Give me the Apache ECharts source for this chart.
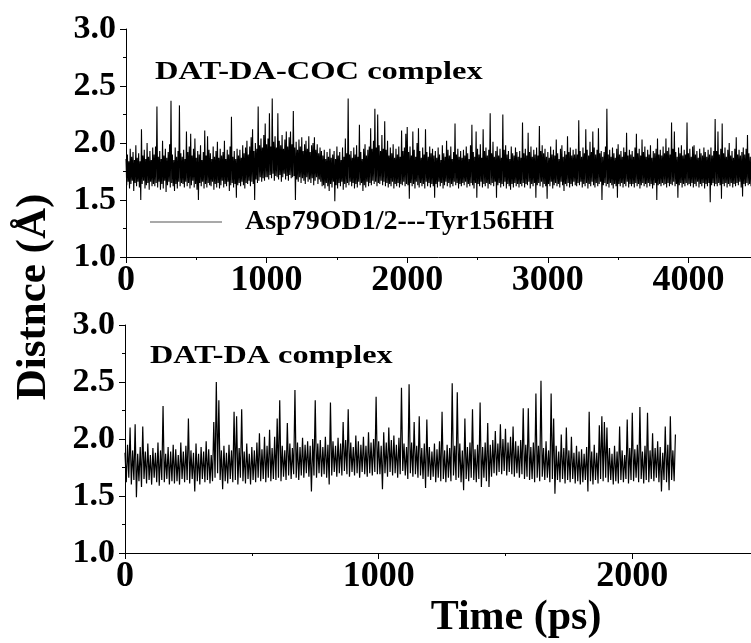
<!DOCTYPE html>
<html><head><meta charset="utf-8">
<script src="https://cdn.jsdelivr.net/npm/echarts@6/dist/echarts.min.js"></script>
<style>html,body{margin:0;padding:0;background:#fff}#c{width:751px;height:643px}</style>
</head><body><div id="c"></div>
<script>
// Sampling interval (ps) for both trajectories
const STEP_PS = 5;

// Top panel: DAT-DA-COC complex, Asp79OD1/2---Tyr156HH distance (Å), 0..4445 ps
const cocDistance = [
1.86,1.63,1.90,1.66,1.84,1.60,1.95,1.64,1.88,1.67,1.92,1.58,1.85,1.65,1.98,1.62,1.87,1.66,1.91,1.61,1.84,1.50,2.12,1.64,1.89,1.67,1.94,1.60,1.86,1.63,2.00,1.65,1.88,1.59,1.93,1.66,1.85,1.62,1.96,1.64,
1.90,1.62,1.97,1.65,2.32,1.61,1.88,1.66,1.93,1.59,1.86,1.64,2.02,1.60,1.89,1.67,1.95,1.57,1.87,1.63,1.92,1.66,1.99,1.61,2.37,1.65,1.90,1.62,1.85,1.58,1.96,1.64,1.88,1.60,1.93,1.66,2.33,1.62,1.91,1.65,
1.88,1.64,1.94,1.61,1.86,1.66,2.10,1.62,1.92,1.65,1.97,1.60,2.08,1.63,1.89,1.67,1.95,1.61,2.04,1.64,1.87,1.59,1.93,1.50,1.90,1.65,1.98,1.62,1.85,1.66,1.92,1.60,2.11,1.64,1.89,1.61,2.06,1.65,1.94,1.63,
1.91,1.62,1.86,1.66,1.97,1.59,1.88,1.64,1.93,1.61,2.01,1.65,1.87,1.60,1.95,1.63,1.89,1.67,1.92,1.61,2.02,1.64,1.86,1.62,1.94,1.66,1.90,1.58,1.97,1.63,2.23,1.65,1.88,1.61,1.93,1.64,1.86,1.52,1.95,1.63,
1.89,1.65,1.94,1.62,1.87,1.66,1.98,1.63,1.91,1.60,1.96,1.65,2.02,1.64,1.90,1.67,1.97,1.62,2.05,1.66,2.12,1.64,1.93,1.50,2.00,1.68,1.95,1.65,2.32,1.67,1.98,1.70,2.04,1.66,1.96,1.69,2.07,1.67,2.17,1.70,
1.99,1.70,2.04,1.68,2.26,1.72,1.97,1.69,2.39,1.73,2.01,1.67,2.06,1.71,1.96,1.70,2.26,1.68,2.02,1.72,1.98,1.66,2.07,1.70,1.95,1.73,2.03,1.68,2.10,1.71,1.97,1.67,2.05,1.72,2.10,1.69,1.99,1.70,2.28,1.71,
1.96,1.50,2.01,1.68,1.94,1.66,2.03,1.70,1.97,1.65,2.05,1.69,1.93,1.67,1.99,1.64,2.02,1.70,1.95,1.66,2.06,1.68,1.92,1.65,1.98,1.69,2.00,1.63,2.05,1.67,1.94,1.70,1.99,1.64,1.91,1.68,1.96,1.66,1.93,1.62,
1.89,1.63,1.94,1.60,1.86,1.65,1.92,1.62,1.88,1.58,1.95,1.64,1.87,1.61,1.90,1.66,1.93,1.49,1.86,1.63,1.97,1.60,1.89,1.65,1.92,1.62,1.85,1.66,1.96,1.59,1.88,1.64,2.04,1.61,1.91,1.65,2.39,1.63,1.90,1.66,
1.93,1.62,1.87,1.65,1.96,1.60,1.90,1.64,1.98,1.61,1.88,1.66,2.16,1.63,1.92,1.65,1.86,1.58,1.95,1.63,1.99,1.61,1.89,1.66,1.94,1.62,1.97,1.65,2.13,1.63,1.95,1.67,2.02,1.64,2.30,1.66,1.96,1.62,2.25,1.65,
1.98,1.64,1.93,1.67,2.07,1.63,1.95,1.66,2.19,1.62,1.94,1.65,2.02,1.61,1.89,1.64,1.96,1.62,1.91,1.66,1.99,1.60,1.87,1.64,1.95,1.62,1.90,1.65,1.97,1.61,1.88,1.64,2.11,1.63,1.93,1.66,1.96,1.62,2.08,1.64,
2.14,1.63,1.92,1.51,1.97,1.65,1.89,1.62,2.10,1.64,1.94,1.60,1.88,1.66,2.00,1.63,2.13,1.61,1.93,1.65,1.87,1.62,1.96,1.64,1.90,1.60,2.12,1.66,1.92,1.62,1.88,1.65,1.97,1.61,1.91,1.64,1.95,1.62,1.89,1.52,
1.93,1.64,1.87,1.61,1.96,1.66,1.90,1.62,1.85,1.65,1.98,1.60,1.91,1.63,1.88,1.66,2.02,1.62,1.94,1.65,1.89,1.61,1.97,1.64,1.86,1.62,1.92,1.66,2.17,1.63,1.90,1.65,1.95,1.60,1.88,1.64,1.93,1.62,1.87,1.65,
1.94,1.63,1.89,1.66,1.97,1.61,1.91,1.64,1.86,1.62,1.98,1.65,2.16,1.63,1.92,1.60,1.88,1.65,2.10,1.52,1.95,1.64,1.90,1.62,1.99,1.66,1.87,1.61,2.12,1.64,1.93,1.62,1.96,1.65,1.89,1.60,1.94,1.64,2.26,1.63,
1.91,1.65,2.01,1.62,1.88,1.66,1.93,1.52,1.97,1.63,1.89,1.65,1.95,1.61,1.87,1.64,2.25,1.62,1.94,1.66,1.98,1.60,1.90,1.64,1.93,1.62,1.86,1.59,1.97,1.64,1.91,1.61,1.89,1.65,1.96,1.62,1.92,1.64,1.88,1.61,
1.93,1.64,1.87,1.62,2.18,1.65,1.91,1.61,1.95,1.64,1.89,1.63,2.09,1.66,1.92,1.60,1.97,1.64,1.88,1.62,1.94,1.65,1.90,1.52,1.96,1.63,1.89,1.65,2.15,1.62,1.93,1.66,1.98,1.61,1.91,1.64,1.95,1.62,1.88,1.51,
1.92,1.64,1.87,1.62,1.97,1.66,1.90,1.60,1.94,1.63,1.89,1.65,2.03,1.62,1.91,1.64,1.86,1.61,1.95,1.66,1.98,1.63,1.88,1.58,1.93,1.64,1.90,1.62,2.06,1.65,1.92,1.61,1.96,1.64,1.89,1.62,1.94,1.66,1.90,1.63,
1.95,1.62,1.90,1.65,2.20,1.63,1.93,1.66,1.88,1.61,1.96,1.64,1.91,1.62,2.12,1.65,1.94,1.60,1.89,1.64,2.01,1.62,1.92,1.66,2.10,1.63,1.96,1.61,1.90,1.65,1.94,1.62,2.13,1.64,1.91,1.66,1.93,1.50,1.88,1.63,
1.92,1.65,1.97,1.62,2.30,1.64,1.90,1.61,1.94,1.65,1.88,1.63,1.96,1.60,1.91,1.64,1.87,1.62,1.95,1.52,1.99,1.64,1.90,1.62,1.93,1.65,1.88,1.61,1.96,1.64,1.92,1.62,2.09,1.66,1.89,1.61,1.94,1.64,1.90,1.62,
1.93,1.64,1.88,1.61,1.96,1.65,2.08,1.62,1.91,1.64,1.95,1.60,1.89,1.63,2.03,1.65,1.92,1.62,1.97,1.64,1.88,1.61,1.94,1.65,1.90,1.62,1.98,1.64,1.87,1.60,1.93,1.63,1.91,1.65,1.95,1.50,2.04,1.63,1.90,1.64,
1.94,1.62,1.89,1.65,1.97,1.63,1.91,1.64,2.04,1.61,1.93,1.65,1.96,1.62,1.90,1.64,2.18,1.63,1.95,1.66,2.10,1.62,1.92,1.64,1.88,1.52,1.96,1.63,1.91,1.65,1.98,1.61,1.89,1.64,1.94,1.62,1.90,1.65,2.18,1.63,
1.91,1.64,1.95,1.62,1.88,1.65,1.97,1.61,1.98,1.64,1.90,1.62,1.93,1.66,1.87,1.61,1.95,1.64,1.91,1.62,1.89,1.65,1.96,1.60,1.92,1.64,1.88,1.62,1.94,1.65,1.90,1.48,1.96,1.63,1.89,1.65,1.93,1.62,2.21,1.64,
1.93,1.62,2.10,1.65,1.90,1.63,1.95,1.51,2.17,1.64,1.91,1.62,1.96,1.65,1.88,1.61,1.94,1.64,2.00,1.62,1.89,1.65,1.93,1.61,1.87,1.64,1.95,1.62,2.05,1.65,1.90,1.63,1.94,1.66,1.89,1.61,1.92,1.53,1.96,1.64,
1.90,1.62,1.95,1.65,2.07,1.63,1.91,1.64,1.88,1.62
];

// Bottom panel: DAT-DA complex distance (Å), 0..2170 ps
const daDistance = [
1.88,1.62,1.95,1.66,2.10,1.60,1.90,1.64,2.13,1.49,1.87,1.63,1.93,1.58,2.11,1.65,1.89,1.61,1.96,1.64,1.86,1.60,1.92,1.66,1.88,1.62,1.97,1.59,1.90,1.64,2.29,1.62,1.87,1.65,1.93,1.60,1.89,1.63,1.95,1.61,
1.91,1.63,1.86,1.60,1.97,1.65,1.89,1.62,1.94,1.64,2.18,1.61,1.90,1.65,1.88,1.54,1.96,1.63,1.87,1.60,1.93,1.65,1.89,1.62,1.98,1.64,1.91,1.61,1.86,1.63,2.15,1.66,2.50,1.70,2.34,1.64,1.90,1.56,1.94,1.63,
1.88,1.61,1.95,1.65,1.90,1.62,2.24,1.64,2.20,1.60,1.92,1.66,2.26,1.63,1.89,1.61,1.96,1.65,1.87,1.60,1.93,1.64,1.90,1.62,1.97,1.66,2.05,1.63,1.91,1.65,2.02,1.62,1.94,1.66,2.08,1.63,1.92,1.65,2.02,1.64,
2.18,1.66,2.34,1.63,1.94,1.67,1.90,1.64,2.14,1.68,1.96,1.65,1.92,1.69,2.43,1.66,1.97,1.64,1.93,1.68,2.01,1.66,1.95,1.70,1.98,1.67,1.94,1.54,2.00,1.68,2.34,1.66,1.96,1.70,1.99,1.67,1.93,1.69,2.02,1.66,
1.95,1.60,2.32,1.68,1.98,1.71,1.94,1.67,2.01,1.70,1.96,1.68,2.15,1.72,1.99,1.69,2.26,1.67,1.97,1.71,1.93,1.68,2.03,1.70,1.98,1.66,1.95,1.71,2.02,1.69,1.94,1.67,2.06,1.70,1.97,1.68,2.00,1.71,2.37,1.69,
1.98,1.69,1.94,1.56,2.06,1.70,1.97,1.67,2.10,1.71,1.99,1.68,2.03,1.70,1.95,1.66,2.01,1.69,2.45,1.72,1.96,1.68,1.93,1.65,2.48,1.70,1.97,1.67,2.15,1.69,1.94,1.66,2.20,1.68,1.92,1.65,1.96,1.57,2.17,1.67,
1.93,1.64,1.89,1.67,1.96,1.62,1.91,1.66,1.98,1.63,2.24,1.65,1.90,1.62,1.95,1.66,1.92,1.63,2.49,1.68,1.94,1.64,2.41,1.66,1.96,1.62,1.90,1.55,2.18,1.65,1.93,1.63,1.97,1.66,2.26,1.64,1.91,1.62,1.95,1.65,
2.32,1.58,1.93,1.66,1.97,1.63,2.14,1.58,1.95,1.67,1.99,1.70,2.07,1.68,1.96,1.71,2.13,1.69,2.00,1.72,2.09,1.68,1.97,1.71,2.02,1.69,2.11,1.67,1.98,1.70,1.94,1.66,1.99,1.69,2.27,1.65,1.95,1.67,2.27,1.64,
1.93,1.65,1.97,1.62,2.40,1.66,1.94,1.63,2.51,1.67,1.92,1.64,1.98,1.66,1.90,1.62,2.40,1.65,2.18,1.52,1.94,1.64,1.89,1.62,2.04,1.65,1.92,1.61,2.10,1.64,1.90,1.62,2.02,1.65,1.88,1.61,1.94,1.63,1.89,1.60,
1.91,1.62,1.87,1.64,1.93,1.54,2.24,1.63,1.89,1.60,1.95,1.64,1.88,1.61,2.12,1.65,2.20,1.63,2.15,1.66,2.10,1.62,1.92,1.64,1.87,1.60,1.94,1.63,1.89,1.61,2.11,1.64,1.90,1.62,1.86,1.65,2.17,1.61,1.92,1.64,
2.23,1.63,1.91,1.66,1.95,1.62,2.28,1.65,1.89,1.61,1.94,1.64,2.23,1.62,1.90,1.65,2.05,1.63,1.92,1.66,1.98,1.62,1.93,1.54,1.88,1.64,2.11,1.62,1.95,1.55,2.20,1.64,1.90,1.63,2.04
];

// Axis settings
const yTickValues = [1.0, 1.5, 2.0, 2.5, 3.0];
const topXTickValues = [0, 1000, 2000, 3000, 4000];
const bottomXTickValues = [0, 1000, 2000];
const TOP_X_MAX = 4445;
const BOTTOM_X_MAX = 2468;

const legendName = 'Asp79OD1/2---Tyr156HH';
const FONT = '"Liberation Serif", "Times New Roman", serif';

function toPairs(arr) { return arr.map((v, i) => [i * STEP_PS, v]); }

function xAxis(gridIndex, max) {
  return {
    type: 'value', gridIndex: gridIndex, min: 0, max: max, interval: 1000,
    axisLine: { show: true, lineStyle: { color: '#000', width: 1 } },
    axisTick: { show: true, inside: false, length: 6, lineStyle: { color: '#000', width: 1 } },
    minorTick: { show: true, splitNumber: 2, length: 3, lineStyle: { color: '#000', width: 1 } },
    splitLine: { show: false },
    axisLabel: { showMaxLabel: false, margin: 6, color: '#000', fontFamily: FONT, fontWeight: 'bold', fontSize: 36,
      formatter: v => String(Math.round(v)) }
  };
}
function yAxis(gridIndex) {
  return {
    type: 'value', gridIndex: gridIndex, min: yTickValues[0], max: yTickValues[yTickValues.length - 1], interval: 0.5,
    axisLine: { show: true, lineStyle: { color: '#000', width: 1 } },
    axisTick: { show: true, inside: false, length: 6, lineStyle: { color: '#000', width: 1 } },
    minorTick: { show: true, splitNumber: 2, length: 3, lineStyle: { color: '#000', width: 1 } },
    splitLine: { show: false },
    axisLabel: { margin: 10, color: '#000', fontFamily: FONT, fontWeight: 'bold', fontSize: 34,
      formatter: v => v.toFixed(1) }
  };
}

const chart = echarts.init(document.getElementById('c'), null, { renderer: 'canvas' });
chart.setOption({
  animation: false,
  backgroundColor: '#fff',
  grid: [
    { left: 126, top: 29, right: 0, height: 228, containLabel: false },
    { left: 125, top: 325, right: 0, height: 228, containLabel: false }
  ],
  xAxis: [xAxis(0, TOP_X_MAX), xAxis(1, BOTTOM_X_MAX)],
  yAxis: [yAxis(0), yAxis(1)],
  legend: {
    data: [legendName], left: 145, top: 203, icon: 'rect', itemWidth: 72, itemHeight: 1,
    itemStyle: { color: '#555' },
    textStyle: { color: '#000', fontFamily: FONT, fontWeight: 'bold', fontSize: 28, padding: [0, 0, 0, 18] },
    selectedMode: false
  },
  series: [
    { type: 'line', name: legendName, xAxisIndex: 0, yAxisIndex: 0, data: toPairs(cocDistance),
      symbol: 'none', showSymbol: false, silent: true, sampling: null,
      lineStyle: { color: '#000', width: 1.1 }, itemStyle: { color: '#000' } },
    { type: 'line', name: 'DAT-DA', xAxisIndex: 1, yAxisIndex: 1, data: toPairs(daDistance),
      symbol: 'none', showSymbol: false, silent: true, sampling: null,
      lineStyle: { color: '#000', width: 1.2 }, itemStyle: { color: '#000' } }
  ],
  graphic: [
    { type: 'text', x: 155, y: 72, scaleX: 1.25, silent: true,
      style: { text: 'DAT-DA-COC complex', fontFamily: FONT, fontWeight: 'bold', fontSize: 26, fill: '#000', align: 'left', verticalAlign: 'middle' } },
    { type: 'text', x: 150, y: 356, scaleX: 1.24, silent: true,
      style: { text: 'DAT-DA complex', fontFamily: FONT, fontWeight: 'bold', fontSize: 26, fill: '#000', align: 'left', verticalAlign: 'middle' } },
    { type: 'text', x: 34, y: 297, rotation: Math.PI / 2, silent: true,
      style: { text: 'Distnce (Å)', fontFamily: FONT, fontWeight: 'bold', fontSize: 43, fill: '#000', align: 'center', verticalAlign: 'middle' } },
    { type: 'text', x: 516, y: 618, silent: true,
      style: { text: 'Time (ps)', fontFamily: FONT, fontWeight: 'bold', fontSize: 42, fill: '#000', align: 'center', verticalAlign: 'middle' } }
  ]
});
</script>
</body></html>
